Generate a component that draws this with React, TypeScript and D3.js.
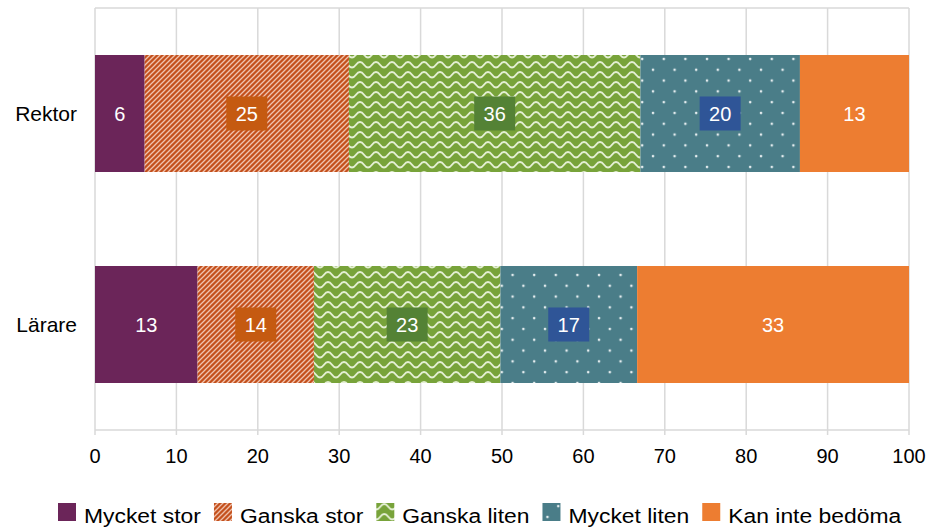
import React, { useRef, useEffect } from "react";
import * as d3 from "d3";

// Chart data (percent)
const categories = ["Rektor", "Lärare"];
const seriesNames = ["Mycket stor", "Ganska stor", "Ganska liten", "Mycket liten", "Kan inte bedöma"];
const rektorValues = [6.1, 25.1, 35.8, 19.6, 13.4];
const lärareValues = [12.6, 14.3, 22.9, 16.8, 33.4];
const xTicks = [0, 10, 20, 30, 40, 50, 60, 70, 80, 90, 100];

const baseColors = ["#6b2559", "#c4501c", "#78a33a", "#4a7d88", "#ed7d31"];
const patternIds = [null, "pat-diag", "pat-wave", "pat-dots", null];
const boxColors = [null, "#c55a11", "#548235", "#2f5597", null];

const FONT = "'Liberation Sans', Arial, sans-serif";

const App = () => {
  const svgRef = useRef<SVGSVGElement>(null);

  useEffect(() => {
    const width = 934;
    const height = 531;
    const margin = { top: 8, right: 25, bottom: 101, left: 95 };

    const rows = categories.map((c, i) => {
      const vals = i === 0 ? rektorValues : lärareValues;
      const row: any = { category: c };
      seriesNames.forEach((s, j) => (row[s] = vals[j]));
      return row;
    });
    const stacked = d3.stack().keys(seriesNames)(rows);

    const x = d3.scaleLinear().domain([0, 100]).range([margin.left, width - margin.right]);
    const y = d3
      .scaleBand()
      .domain(categories)
      .range([margin.top, height - margin.bottom])
      .paddingInner(0.4455)
      .paddingOuter(0.4455 / 2);

    const svg = d3.select(svgRef.current);
    svg.selectAll("*").remove();

    // patterns
    const defs = svg.append("defs");
    const diag = defs
      .append("pattern")
      .attr("id", "pat-diag")
      .attr("patternUnits", "userSpaceOnUse")
      .attr("width", 5)
      .attr("height", 5);
    diag.append("rect").attr("width", 5).attr("height", 5).attr("fill", baseColors[1]);
    diag
      .append("path")
      .attr("d", "M-1,1 l2,-2 M0,5 l5,-5 M4,6 l2,-2")
      .attr("stroke", "#f0c3ae")
      .attr("stroke-width", 1.3);

    const wave = defs
      .append("pattern")
      .attr("id", "pat-wave")
      .attr("patternUnits", "userSpaceOnUse")
      .attr("width", 16)
      .attr("height", 10);
    wave.append("rect").attr("width", 16).attr("height", 10).attr("fill", baseColors[2]);
    wave
      .append("path")
      .attr("d", "M0,7.5 C4,7.5 4,2 8,2 C12,2 12,7.5 16,7.5")
      .attr("fill", "none")
      .attr("stroke", "#e4efd3")
      .attr("stroke-width", 1.9);

    const dots = defs
      .append("pattern")
      .attr("id", "pat-dots")
      .attr("patternUnits", "userSpaceOnUse")
      .attr("width", 21.6)
      .attr("height", 21.6);
    dots.append("rect").attr("width", 21.6).attr("height", 21.6).attr("fill", baseColors[3]);
    [[5, 5], [15.8, 15.8]].forEach(([cx, cy]) =>
      dots.append("circle").attr("cx", cx).attr("cy", cy).attr("r", 1.3).attr("fill", "#e6eef0")
    );

    const fillFor = (j: number) => (patternIds[j] ? `url(#${patternIds[j]})` : baseColors[j]);

    // gridlines and frame
    const grid = svg.append("g").attr("stroke", "#d9d9d9").attr("stroke-width", 1.5);
    grid
      .selectAll("line.v")
      .data(xTicks)
      .join("line")
      .attr("x1", (d) => x(d))
      .attr("x2", (d) => x(d))
      .attr("y1", margin.top)
      .attr("y2", height - margin.bottom + 5);
    grid
      .append("line")
      .attr("x1", x(0))
      .attr("x2", x(100))
      .attr("y1", margin.top)
      .attr("y2", margin.top);
    grid
      .append("line")
      .attr("x1", x(0))
      .attr("x2", x(100))
      .attr("y1", height - margin.bottom)
      .attr("y2", height - margin.bottom);

    // bars
    stacked.forEach((layer, j) => {
      svg
        .append("g")
        .selectAll("rect")
        .data(layer)
        .join("rect")
        .attr("x", (d) => x(d[0]))
        .attr("y", (d: any) => y(d.data.category)!)
        .attr("width", (d) => x(d[1]) - x(d[0]))
        .attr("height", y.bandwidth())
        .attr("fill", fillFor(j));
    });

    // value labels
    stacked.forEach((layer, j) => {
      const g = svg.append("g");
      layer.forEach((d: any) => {
        const cx = (x(d[0]) + x(d[1])) / 2;
        const cy = y(d.data.category)! + y.bandwidth() / 2;
        if (boxColors[j]) {
          g.append("rect")
            .attr("x", cx - 20.5)
            .attr("y", cy - 17)
            .attr("width", 41)
            .attr("height", 34)
            .attr("fill", boxColors[j]!);
        }
        g.append("text")
          .attr("x", cx)
          .attr("y", cy + 7)
          .attr("text-anchor", "middle")
          .attr("font-family", FONT)
          .attr("font-size", 20)
          .attr("fill", "#fff")
          .text(Math.round(d[1] - d[0]));
      });
    });

    // x tick labels
    svg
      .append("g")
      .selectAll("text")
      .data(xTicks)
      .join("text")
      .attr("x", (d) => x(d))
      .attr("y", height - margin.bottom + 33)
      .attr("text-anchor", "middle")
      .attr("font-family", FONT)
      .attr("font-size", 20)
      .attr("fill", "#000")
      .text((d) => d);

    // category labels
    svg
      .append("g")
      .selectAll("text")
      .data(categories)
      .join("text")
      .attr("x", margin.left - 18)
      .attr("y", (d) => y(d)! + y.bandwidth() / 2 + 7)
      .attr("text-anchor", "end")
      .attr("font-family", FONT)
      .attr("font-size", 21)
      .attr("fill", "#000")
      .text((d) => d);

    // legend (text slightly widened like the original)
    const stretch = 1.09;
    const legend = svg.append("g").attr("transform", "translate(58,512)");
    let cursor = 0;
    seriesNames.forEach((name, j) => {
      const item = legend.append("g").attr("transform", `translate(${cursor},0)`);
      item.append("rect").attr("x", 0).attr("y", -9).attr("width", 18).attr("height", 18).attr("fill", fillFor(j));
      const t = item
        .append("text")
        .attr("transform", `translate(26,11) scale(${stretch},1)`)
        .attr("font-family", FONT)
        .attr("font-size", 21)
        .attr("fill", "#000")
        .text(name);
      const w = (t.node() as SVGTextElement).getComputedTextLength() * stretch;
      cursor += 26 + w + 13;
    });
  }, []);

  return (
    <svg
      ref={svgRef}
      width={934}
      height={531}
      style={{ position: "absolute", left: 0, top: 0, background: "#fff" }}
    ></svg>
  );
};

export default App;
